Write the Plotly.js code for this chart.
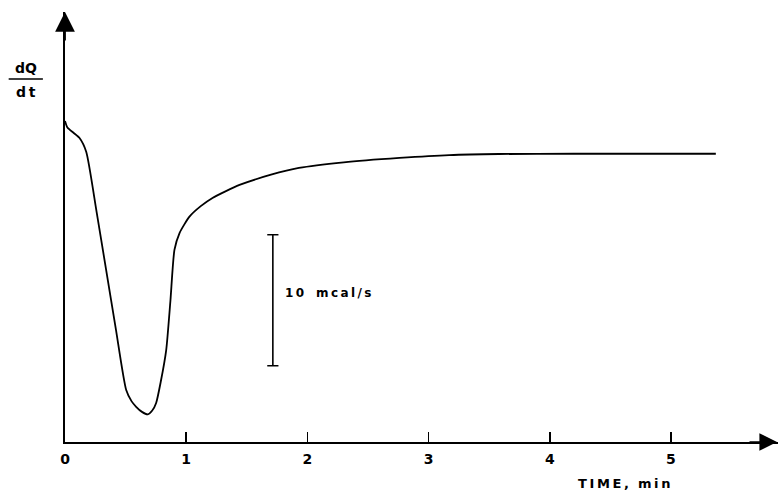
<!DOCTYPE html>
<html>
<head>
<meta charset="utf-8">
<script src="https://cdn.plot.ly/plotly-3.0.1.min.js"></script>
<style>html,body{margin:0;padding:0;background:#fff;}#chart{width:778px;height:492px;}</style>
</head>
<body>
<div id="chart"></div>
<script>
// Time (min) and heat flow dQ/dt (mcal/s, offset so the x axis is 0)
const timeMin = [0, 0.02, 0.07, 0.12, 0.175, 0.26, 0.34, 0.42, 0.505, 0.55, 0.587, 0.635, 0.683, 0.72, 0.752, 0.79, 0.835, 0.87, 0.903, 0.945, 1.027, 1.12, 1.217, 1.44, 1.7, 1.93, 2.3, 2.76, 3.17, 3.58, 4.2, 4.8, 5.37];
const dQdt    = [24.5, 24.0, 23.6, 23.2, 22.15, 17.6, 13.1, 8.6, 3.97, 3.1, 2.69, 2.3, 2.11, 2.4, 2.98, 4.6, 7.02, 10.8, 14.66, 15.95, 17.2, 18.0, 18.63, 19.62, 20.4, 20.92, 21.35, 21.68, 21.9, 21.98, 22.0, 22.0, 22.0];
const xTickVals = [0, 1, 2, 3, 4, 5];
const xTickText = ['0', '1', '2', '3', '4', '5'];
const scaleBarX = 1.715;
const scaleBarBottom = 5.82;
const scaleBarLength = 10; // mcal/s
const scaleBarLabel = '1\u20090\u2003m\u2009c\u2009a\u2009l\u2009/\u2009s';
const xTitle = 'T\u2009I\u2009M\u2009E\u2009,\u2002\u2009m\u2009i\u2009n';

const FONT = 'DejaVu Sans, Liberation Sans, Arial, sans-serif';

const traces = [
  {
    x: timeMin, y: dQdt, type: 'scatter', mode: 'lines',
    line: {color: '#000', width: 1.8, shape: 'spline', smoothing: 0.6},
    hoverinfo: 'skip'
  },
  {
    x: [scaleBarX, scaleBarX], y: [scaleBarBottom, scaleBarBottom + scaleBarLength],
    type: 'scatter', mode: 'lines+markers',
    line: {color: '#000', width: 1.6},
    marker: {symbol: 'line-ew', size: 8, line: {color: '#000', width: 1.5}},
    hoverinfo: 'skip'
  }
];

const layout = {
  width: 778, height: 492,
  margin: {l: 65, r: 0, t: 12, b: 50},
  paper_bgcolor: '#fff', plot_bgcolor: '#fff',
  showlegend: false,
  xaxis: {
    range: [0, 5.883], showgrid: false, zeroline: false,
    showline: true, linecolor: '#000', linewidth: 1.6,
    tickmode: 'array', tickvals: xTickVals, ticktext: xTickText.map(t => '<b>' + t + '</b>'),
    ticks: 'inside', ticklen: 10, tickwidth: 1.6, tickcolor: '#000', ticklabelstandoff: 4,
    tickfont: {family: FONT, size: 14, color: '#000'},
    fixedrange: true
  },
  yaxis: {
    range: [0, 32.82], showgrid: false, zeroline: false,
    showline: true, linecolor: '#000', linewidth: 1.8,
    showticklabels: false, ticks: '', fixedrange: true
  },
  annotations: [
    {x: 1, y: 0, xref: 'paper', yref: 'paper', ax: -30, ay: 0, text: '', showarrow: true,
     arrowhead: 2, arrowsize: 2.2, arrowwidth: 1.6, arrowcolor: '#000'},
    {x: 0, y: 1, xref: 'paper', yref: 'paper', ax: 0, ay: 30, text: '', showarrow: true,
     arrowhead: 2, arrowsize: 2.2, arrowwidth: 1.8, arrowcolor: '#000'},
    {x: scaleBarX + 0.08, y: scaleBarBottom + scaleBarLength * 0.555, xref: 'x', yref: 'y',
     text: '<b>' + scaleBarLabel + '</b>', showarrow: false, xanchor: 'left', yanchor: 'middle',
     font: {family: FONT, size: 12, color: '#000'}},
    {x: 0.784, y: -0.097, xref: 'paper', yref: 'paper', text: '<b>' + xTitle + '</b>', showarrow: false,
     xanchor: 'center', yanchor: 'middle', font: {family: FONT, size: 13, color: '#000'}},
    {x: -0.0545, y: 0.869, xref: 'paper', yref: 'paper', text: '<b>dQ</b>', showarrow: false,
     xanchor: 'center', yanchor: 'middle', font: {family: FONT, size: 14, color: '#000'}},
    {x: -0.0545, y: 0.814, xref: 'paper', yref: 'paper', text: '<b>d\u2009t</b>', showarrow: false,
     xanchor: 'center', yanchor: 'middle', font: {family: FONT, size: 14, color: '#000'}}
  ],
  shapes: [
    {type: 'line', xref: 'paper', yref: 'paper', x0: -0.079, x1: -0.031, y0: 0.844, y1: 0.844,
     line: {color: '#000', width: 1.5}}
  ]
};

Plotly.newPlot('chart', traces, layout, {displayModeBar: false, staticPlot: true});
</script>
</body>
</html>
